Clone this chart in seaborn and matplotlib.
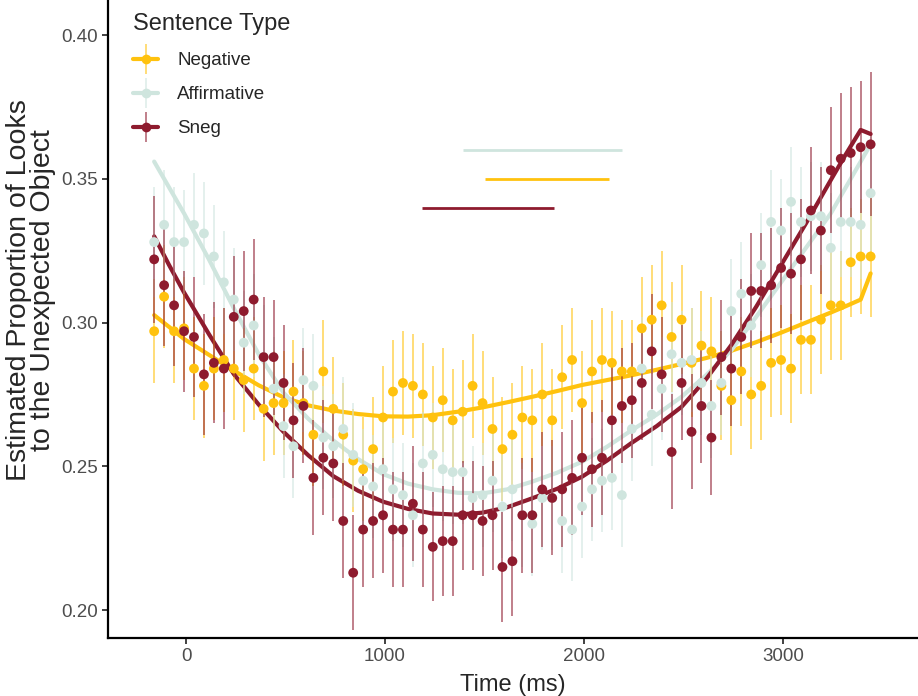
import numpy as np
import pandas as pd
import seaborn as sns
import matplotlib.pyplot as plt
from matplotlib.lines import Line2D

# time bins (ms)
times = [-160, -110, -60, -10, 40, 90, 140, 190, 240, 290, 340, 390, 440, 490, 540,
         590, 640, 690, 740, 790, 840, 890, 940, 990, 1040, 1090, 1140, 1190, 1240,
         1290, 1340, 1390, 1440, 1490, 1540, 1590, 1640, 1690, 1740, 1790, 1840, 1890,
         1940, 1990, 2040, 2090, 2140, 2190, 2240, 2290, 2340, 2390, 2440, 2490, 2540,
         2590, 2640, 2690, 2740, 2790, 2840, 2890, 2940, 2990, 3040, 3090, 3140, 3190,
         3240, 3290, 3340, 3390, 3440]

negative = [0.297, 0.309, 0.297, 0.298, 0.284, 0.278, 0.284, 0.287, 0.284, 0.280,
            0.284, 0.270, 0.272, 0.272, 0.276, 0.272, 0.261, 0.283, 0.270, 0.261,
            0.252, 0.249, 0.256, 0.267, 0.276, 0.279, 0.278, 0.275, 0.267, 0.273,
            0.266, 0.269, 0.278, 0.272, 0.263, 0.256, 0.261, 0.267, 0.266, 0.275,
            0.266, 0.281, 0.287, 0.272, 0.283, 0.287, 0.286, 0.283, 0.283, 0.298,
            0.301, 0.306, 0.295, 0.301, 0.286, 0.292, 0.290, 0.278, 0.273, 0.283,
            0.275, 0.278, 0.286, 0.287, 0.284, 0.294, 0.294, 0.301, 0.306, 0.306,
            0.321, 0.323, 0.323]
affirmative = [0.328, 0.334, 0.328, 0.328, 0.334, 0.331, 0.323, 0.314, 0.308, 0.293,
               0.299, 0.288, 0.277, 0.264, 0.257, 0.280, 0.278, 0.260, 0.257, 0.263,
               0.254, 0.245, 0.243, 0.249, 0.242, 0.240, 0.233, 0.251, 0.254, 0.249,
               0.248, 0.248, 0.239, 0.240, 0.245, 0.236, 0.242, 0.233, 0.230, 0.239,
               0.239, 0.231, 0.228, 0.236, 0.242, 0.245, 0.246, 0.240, 0.263, 0.284,
               0.268, 0.277, 0.289, 0.286, 0.287, 0.279, 0.271, 0.279, 0.304, 0.310,
               0.299, 0.320, 0.335, 0.332, 0.342, 0.335, 0.337, 0.337, 0.326, 0.335,
               0.335, 0.334, 0.345]
sneg = [0.322, 0.313, 0.306, 0.297, 0.295, 0.282, 0.286, 0.284, 0.302, 0.304,
        0.308, 0.288, 0.288, 0.279, 0.266, 0.271, 0.246, 0.253, 0.251, 0.231,
        0.213, 0.228, 0.231, 0.233, 0.228, 0.228, 0.237, 0.228, 0.222, 0.224,
        0.224, 0.233, 0.233, 0.231, 0.233, 0.215, 0.217, 0.233, 0.233, 0.242,
        0.239, 0.242, 0.246, 0.253, 0.249, 0.253, 0.266, 0.271, 0.273, 0.279,
        0.290, 0.282, 0.255, 0.279, 0.262, 0.271, 0.260, 0.288, 0.284, 0.295,
        0.311, 0.311, 0.313, 0.319, 0.317, 0.322, 0.339, 0.332, 0.353, 0.357,
        0.359, 0.361, 0.362]

# half-widths of the error bars
negative_err = [0.018, 0.018, 0.018, 0.018, 0.018, 0.018, 0.018, 0.018, 0.018, 0.018,
                0.018, 0.018, 0.018, 0.018, 0.018, 0.018, 0.018, 0.018, 0.018, 0.018,
                0.018, 0.018, 0.018, 0.018, 0.018, 0.018, 0.018, 0.018, 0.018, 0.018,
                0.018, 0.018, 0.018, 0.018, 0.018, 0.018, 0.018, 0.018, 0.018, 0.018,
                0.018, 0.018, 0.018, 0.018, 0.018, 0.018, 0.018, 0.018, 0.018, 0.018,
                0.019, 0.019, 0.019, 0.019, 0.019, 0.019, 0.019, 0.019, 0.019, 0.019,
                0.019, 0.019, 0.019, 0.019, 0.019, 0.019, 0.019, 0.019, 0.019, 0.019,
                0.019, 0.020, 0.021]
affirmative_err = [0.019, 0.019, 0.019, 0.018, 0.018, 0.018, 0.018, 0.018, 0.018, 0.018,
                   0.018, 0.018, 0.018, 0.018, 0.018, 0.018, 0.018, 0.018, 0.018, 0.018,
                   0.018, 0.018, 0.018, 0.018, 0.018, 0.018, 0.018, 0.018, 0.018, 0.018,
                   0.018, 0.018, 0.018, 0.018, 0.018, 0.018, 0.018, 0.018, 0.018, 0.018,
                   0.018, 0.018, 0.018, 0.018, 0.018, 0.018, 0.018, 0.018, 0.018, 0.018,
                   0.018, 0.018, 0.018, 0.018, 0.018, 0.018, 0.018, 0.018, 0.018, 0.018,
                   0.018, 0.018, 0.018, 0.018, 0.019, 0.019, 0.019, 0.019, 0.019, 0.019,
                   0.019, 0.019, 0.020]
sneg_err = [0.022, 0.021, 0.021, 0.021, 0.021, 0.021, 0.021, 0.021, 0.021, 0.021,
            0.021, 0.021, 0.020, 0.020, 0.020, 0.020, 0.020, 0.020, 0.020, 0.020,
            0.020, 0.020, 0.020, 0.020, 0.020, 0.020, 0.020, 0.020, 0.019, 0.019,
            0.019, 0.019, 0.019, 0.019, 0.019, 0.019, 0.019, 0.020, 0.020, 0.020,
            0.020, 0.020, 0.020, 0.020, 0.020, 0.020, 0.020, 0.020, 0.020, 0.020,
            0.020, 0.020, 0.020, 0.020, 0.020, 0.020, 0.020, 0.020, 0.020, 0.020,
            0.020, 0.020, 0.020, 0.021, 0.021, 0.021, 0.022, 0.022, 0.022, 0.023,
            0.023, 0.023, 0.025]

# fitted curves, read every 125 ms plus the last two bins
fit_times = [-160, -85, -10, 115, 240, 365, 490, 615, 740, 865, 990, 1115, 1240,
             1365, 1490, 1615, 1740, 1865, 1990, 2115, 2240, 2365, 2490, 2615, 2740,
             2865, 2990, 3115, 3240, 3315, 3390, 3440]
negative_fit = [0.3026, 0.2985, 0.2943, 0.2888, 0.2833, 0.2782, 0.2740, 0.2712, 0.2694,
                0.2682, 0.2674, 0.2673, 0.2678, 0.2690, 0.2705, 0.2723, 0.2742, 0.2762,
                0.2783, 0.2800, 0.2817, 0.2836, 0.2856, 0.2877, 0.2902, 0.2932, 0.2965,
                0.3000, 0.3035, 0.3057, 0.3080, 0.3171]
affirmative_fit = [0.3560, 0.3470, 0.3380, 0.3220, 0.3050, 0.2890, 0.2756, 0.2665, 0.2590,
                   0.2525, 0.2473, 0.2440, 0.2420, 0.2408, 0.2406, 0.2420, 0.2447, 0.2478,
                   0.2516, 0.2568, 0.2626, 0.2680, 0.2742, 0.2818, 0.2904, 0.3020, 0.3140,
                   0.3260, 0.3380, 0.3470, 0.3560, 0.3620]
sneg_fit = [0.3300, 0.3200, 0.3105, 0.2960, 0.2821, 0.2715, 0.2620, 0.2538, 0.2466,
            0.2415, 0.2377, 0.2352, 0.2336, 0.2332, 0.2339, 0.2358, 0.2389, 0.2422,
            0.2464, 0.2520, 0.2582, 0.2640, 0.2707, 0.2805, 0.2922, 0.3055, 0.3200,
            0.3345, 0.3496, 0.3585, 0.3670, 0.3656]

# significance windows (start, end, height)
sig_affirmative = (1390, 2190, 0.360)
sig_negative = (1500, 2125, 0.350)
sig_sneg = (1185, 1850, 0.340)

types = ["Negative", "Affirmative", "Sneg"]
pal = {"Negative": "#FFC20E", "Affirmative": "#CFE5DE", "Sneg": "#8E1B2E"}

pts = pd.concat([
    pd.DataFrame({"time": times, "prop": negative, "err": negative_err, "type": "Negative"}),
    pd.DataFrame({"time": times, "prop": affirmative, "err": affirmative_err, "type": "Affirmative"}),
    pd.DataFrame({"time": times, "prop": sneg, "err": sneg_err, "type": "Sneg"}),
])
fits = pd.concat([
    pd.DataFrame({"time": fit_times, "prop": negative_fit, "type": "Negative"}),
    pd.DataFrame({"time": fit_times, "prop": affirmative_fit, "type": "Affirmative"}),
    pd.DataFrame({"time": fit_times, "prop": sneg_fit, "type": "Sneg"}),
])

sns.set_theme(style="ticks")
plt.rcParams['font.family'] = ['Liberation Sans', 'DejaVu Sans']

fig = plt.figure(figsize=(9.18, 6.96), dpi=100)
ax = fig.add_axes([108 / 918, 58 / 696, 810 / 918, 638 / 696])

sns.lineplot(data=fits, x="time", y="prop", hue="type", palette=pal, hue_order=types,
             linewidth=3.0, legend=False, ax=ax, zorder=2)

for t in types:
    d = pts[pts["type"] == t]
    ax.vlines(d["time"], d["prop"] - d["err"], d["prop"] + d["err"],
              color=pal[t], alpha=0.6, linewidth=1.3, zorder=3)
sns.scatterplot(data=pts, x="time", y="prop", hue="type", palette=pal, hue_order=types,
                s=50, edgecolor="none", linewidth=0, alpha=1, legend=False, ax=ax, zorder=4)

for (x0, x1, y), t in [(sig_affirmative, "Affirmative"), (sig_negative, "Negative"), (sig_sneg, "Sneg")]:
    ax.hlines(y, x0, x1, color=pal[t], linewidth=2.0, zorder=3)

ax.set_xlim(-392, 3678)
ax.set_ylim(0.1903, 0.4122)
ax.set_xticks([0, 1000, 2000, 3000])
ax.set_yticks([0.20, 0.25, 0.30, 0.35, 0.40])
ax.set_yticklabels(["0.20", "0.25", "0.30", "0.35", "0.40"])
ax.tick_params(labelsize=13.5, labelcolor="#4D4D4D", length=4, width=1.3, color="#333333")
ax.set_xlabel("Time (ms)", fontsize=17, labelpad=6)
ax.set_ylabel("Estimated Proportion of Looks\nto the Unexpected Object", fontsize=20.5,
              linespacing=0.9)
ax.yaxis.set_label_coords(-0.064, 0.545)
sns.despine(ax=ax)
for s in ["left", "bottom"]:
    ax.spines[s].set_linewidth(1.6)
    ax.spines[s].set_color("black")

handles = []
for t in types:
    handles.append((Line2D([], [], color=pal[t], linewidth=3.0),
                    Line2D([], [], color=pal[t], alpha=0.6, marker="|", markersize=22,
                           markeredgewidth=1.3, linestyle="None"),
                    Line2D([], [], color=pal[t], marker="o", markersize=7,
                           markeredgewidth=0, linestyle="None")))
leg = ax.legend(handles, types, title="Sentence Type", loc="upper left",
                bbox_to_anchor=(120 / 918, 1.0), bbox_transform=fig.transFigure,
                frameon=False, fontsize=13.5, title_fontsize=17, handlelength=1.35,
                handletextpad=1.0, labelspacing=0.9, alignment="left", borderaxespad=0.3)

plt.savefig("out.png", dpi=100)
